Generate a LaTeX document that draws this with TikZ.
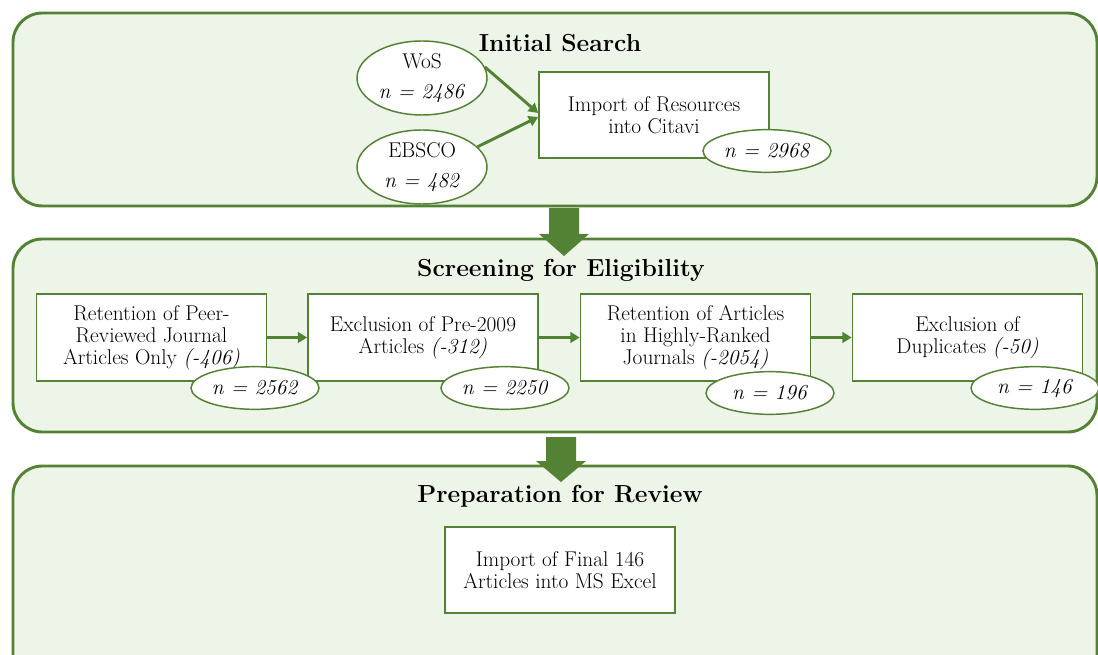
\documentclass[tikz,border=0pt]{standalone}
\usepackage{tikz}
\usetikzlibrary{shapes,% ellipse nodes for the counts
arrows.meta,%            triangle tips on the flow arrows
positioning}
\definecolor{leaf}{RGB}{84,130,53}
\definecolor{mint}{RGB}{237,244,232}
\tikzset{every node/.style={font=\fontsize{16}{16.5}\selectfont}}
\tikzset{
  panel/.style={draw=leaf, line width=2.2pt, fill=mint, rounded corners=22pt},
  stepbox/.style={draw=leaf, line width=1.3pt, fill=white, align=center,
    minimum width=172.5pt, minimum height=65pt, inner sep=2pt},
  tally/.style={ellipse, draw=leaf, line width=1.1pt, fill=white,
    minimum width=96pt, minimum height=32pt, inner sep=0pt},
  source/.style={ellipse, draw=leaf, line width=1.1pt, fill=white, align=center,
    minimum width=97.5pt, minimum height=55.5pt, inner sep=0pt},
  flow/.style={draw=leaf, line width=2.2pt, -{Triangle[length=7pt,width=8pt]}},
  heading/.style={font=\fontsize{18.5}{21}\selectfont\bfseries}
}

\begin{document}
\begin{tikzpicture}[x=0.75pt, y=-0.75pt]
      \useasboundingbox (0,0) rectangle (1098,655);
      % the three stages
      \draw[panel] (13,13) rectangle (1097,206);
      \draw[panel] (13,239) rectangle (1097,432);
      \draw[panel] (13,466) rectangle (1097,690);

      % big arrows between the stages
      \fill[leaf] (549,208) -- (579,208) -- (579,234) -- (589,234) -- (564,256)
        -- (539,234) -- (549,234) -- cycle;
      \fill[leaf] (546,437) -- (576,437) -- (576,461) -- (586,461) -- (561,482)
        -- (536,461) -- (546,461) -- cycle;

      \node[heading] (search) at (560,43) {Initial Search};
      \node[heading] (screen) at (561,270) {Screening for Eligibility};
      \node[heading] (prep) at (560,496) {Preparation for Review};

      % initial search
      \node[source] (wos) at (422,78) {WoS\\[6pt]\textit{n = 2486}};
      \node[source] (ebsco) at (422,167) {EBSCO\\[6pt]\textit{n = 482}};
      \node[stepbox] (citavi) at (654,115) {Import of Resources\\into Citavi};
      \node[tally] (nCitavi) at (767,151) {\textit{n = 2968}};
      \draw[flow] (wos.10) -- ([yshift=1.5pt]citavi.west);
      \draw[flow] (ebsco.20) -- ([yshift=-1.5pt]citavi.west);

      % screening
      \node[stepbox] (peer) at (151.5,337.5) {Retention of Peer-\\Reviewed Journal\\Articles Only \textit{(-406)}};
      \node[stepbox] (year) at (423,337.5) {Exclusion of Pre-2009\\Articles \textit{(-312)}};
      \node[stepbox] (rank) at (695.5,337.5) {Retention of Articles\\in Highly-Ranked\\Journals \textit{(-2054)}};
      \node[stepbox] (dupl) at (967.5,337.5) {Exclusion of\\Duplicates \textit{(-50)}};
      \draw[flow] (peer) -- (year);
      \draw[flow] (year) -- (rank);
      \draw[flow] (rank) -- (dupl);
      \node[tally] (nPeer) at (255,388) {\textit{n = 2562}};
      \node[tally] (nYear) at (505,388) {\textit{n = 2250}};
      \node[tally] (nRank) at (770,393) {\textit{n = 196}};
      \node[tally] (nDupl) at (1035,388) {\textit{n = 146}};

      % preparation
      \node[stepbox] (excel) at (560,570) {Import of Final 146\\Articles into MS Excel};
\end{tikzpicture}
\end{document}
